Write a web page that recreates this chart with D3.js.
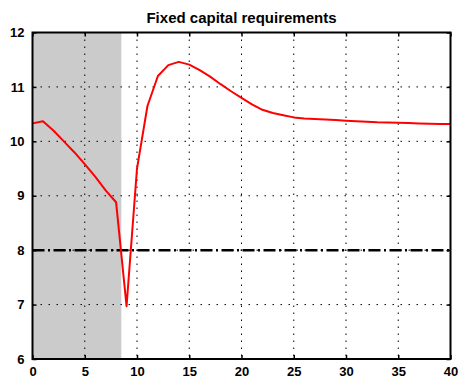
<!DOCTYPE html>
<html>
<head>
<meta charset="utf-8">
<script src="https://cdn.jsdelivr.net/npm/d3@7"></script>
<style>
  body { margin: 0; background: #fff; }
  text { font-family: Arial, 'Liberation Sans', sans-serif; font-weight: bold; fill: #000; }
</style>
</head>
<body>
<div id="chart"></div>
<script>
// quarters after the shock
const quarters = d3.range(0, 41)
// fixed capital requirement path
const capital = [
  10.33, 10.37, 10.20, 10.00, 9.80, 9.58, 9.35, 9.10, 8.88, 6.97,
  9.50, 10.65, 11.20, 11.40, 11.46, 11.41, 11.31, 11.19, 11.05, 10.92,
  10.80, 10.68, 10.58, 10.52, 10.48, 10.44, 10.42, 10.41, 10.40, 10.39,
  10.38, 10.37, 10.36, 10.35, 10.345, 10.34, 10.335, 10.33, 10.325, 10.32,
  10.32
]
// shaded period
const shade = [0, 8.5]
// reference level
const refLevel = 8
const xTicks = [0, 5, 10, 15, 20, 25, 30, 35, 40]
const yTicks = [6, 7, 8, 9, 10, 11, 12]

const W = 459
const H = 379
const margin = { top: 32.5, right: 8.5, bottom: 20, left: 32.5 }
const width = W - margin.left - margin.right
const height = H - margin.top - margin.bottom

const svg = d3.select('#chart')
  .append('svg')
  .attr('width', W)
  .attr('height', H)

const g = svg.append('g')
  .attr('transform', 'translate(' + margin.left + ',' + margin.top + ')')

const x = d3.scaleLinear().domain([0, 40]).range([0, width])
const y = d3.scaleLinear().domain([6, 12]).range([height, 0])

// shaded region
g.append('rect')
  .attr('x', x(shade[0]))
  .attr('y', 0)
  .attr('width', x(shade[1]) - x(shade[0]))
  .attr('height', height)
  .attr('fill', '#cbcbcb')

// dotted grid
g.append('g')
  .selectAll('line')
  .data(xTicks.slice(1, -1))
  .enter()
  .append('line')
  .attr('x1', d => x(d)).attr('x2', d => x(d))
  .attr('y1', 0).attr('y2', height)
  .attr('stroke', '#000')
  .attr('stroke-width', 1)
  .attr('stroke-dasharray', '1.5,5.5')

g.append('g')
  .selectAll('line')
  .data(yTicks.slice(1, -1))
  .enter()
  .append('line')
  .attr('y1', d => y(d)).attr('y2', d => y(d))
  .attr('x1', 0).attr('x2', width)
  .attr('stroke', '#000')
  .attr('stroke-width', 1)
  .attr('stroke-dasharray', '1.5,6.5')

// reference line
g.append('line')
  .attr('x1', 0).attr('x2', width)
  .attr('y1', y(refLevel)).attr('y2', y(refLevel))
  .attr('stroke', '#000')
  .attr('stroke-width', 2.5)
  .attr('stroke-dasharray', '12,3.5,2,3.5')

// series
const line = d3.line()
  .x((d, i) => x(quarters[i]))
  .y(d => y(d))

g.append('path')
  .datum(capital)
  .attr('d', line)
  .attr('fill', 'none')
  .attr('stroke', '#ff0000')
  .attr('stroke-width', 2)
  .attr('stroke-linejoin', 'round')

// axes with inward ticks
const axisStyle = sel => {
  sel.select('.domain').remove()
  sel.selectAll('.tick line').attr('stroke', '#000').attr('stroke-width', 1.5)
  sel.selectAll('.tick text').style('font-size', '13px').attr('fill', '#000')
}

g.append('g')
  .attr('transform', 'translate(0,' + height + ')')
  .call(d3.axisBottom(x).tickValues(xTicks).tickFormat(d3.format('d')).tickSizeInner(-4).tickPadding(8))
  .call(axisStyle)

g.append('g')
  .call(d3.axisLeft(y).tickValues(yTicks).tickFormat(d3.format('d')).tickSizeInner(-4).tickPadding(8))
  .call(axisStyle)

g.append('g')
  .call(d3.axisTop(x).tickValues(xTicks).tickSizeInner(-4).tickFormat(''))
  .call(axisStyle)

g.append('g')
  .attr('transform', 'translate(' + width + ',0)')
  .call(d3.axisRight(y).tickValues(yTicks).tickSizeInner(-4).tickFormat(''))
  .call(axisStyle)

// frame
g.append('rect')
  .attr('width', width)
  .attr('height', height)
  .attr('fill', 'none')
  .attr('stroke', '#000')
  .attr('stroke-width', 2)

// title
svg.append('text')
  .attr('x', margin.left + width / 2)
  .attr('y', 23)
  .attr('text-anchor', 'middle')
  .style('font-size', '15px')
  .text('Fixed capital requirements')
</script>
</body>
</html>
